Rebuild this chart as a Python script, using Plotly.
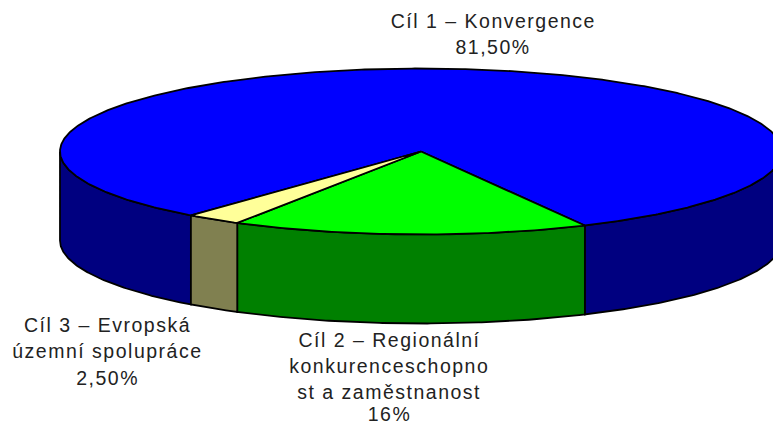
import numpy as np
import plotly.graph_objects as go

# Data
categories = ["Cíl 1 – Konvergence", "Cíl 2 – Regionální konkurenceschopnost a zaměstnanost", "Cíl 3 – Evropská územní spolupráce"]
values = [81.5, 16.0, 2.5]
top_colors = ["#0000FF", "#00FF00", "#FFFF99"]
side_colors = ["#000080", "#008000", "#808050"]
label_lines = [
    ["Cíl 1 – Konvergence", "81,50%"],
    ["Cíl 2 – Regionální", "konkurenceschopno", "st a zaměstnanost", "16%"],
    ["Cíl 3 – Evropská", "územní spolupráce", "2,50%"],
]
label_x = [493, 389.5, 107.7]
label_y = [[21, 47], [340, 366, 392, 413.5], [325, 351, 378]]

# Pie geometry on a pixel-sized axis
CX, CY, RX, RY, DEPTH = 421, 151.5, 361, 83, 89
ROTATION = 219.6  # clockwise angle from 12 o'clock where the first slice begins
LINE = dict(color="#000000", width=1.8)


def rim(a0, a1, drop=0.0):
    n = max(int(abs(a1 - a0)) * 2, 2)
    t = np.radians(np.linspace(a0, a1, n))
    return CX + RX * np.sin(t), CY - RY * np.cos(t) + drop


fig = go.Figure()
edges = ROTATION + np.concatenate([[0], np.cumsum(values)]) * 3.6

# walls: only the part of the rim facing the viewer (90..270 degrees, plus wrap)
for i in range(len(values)):
    for shift in (0, -360):
        a0 = max(edges[i] + shift, 90)
        a1 = min(edges[i + 1] + shift, 270)
        if a1 <= a0:
            continue
        x0, y0 = rim(a0, a1)
        x1, y1 = rim(a1, a0, DEPTH)
        fig.add_trace(go.Scatter(
            x=np.r_[x0, x1, x0[:1]], y=np.r_[y0, y1, y0[:1]], mode="lines",
            fill="toself", fillcolor=side_colors[i], line=LINE, hoverinfo="skip"))

# top faces
for i in range(len(values)):
    x0, y0 = rim(edges[i], edges[i + 1])
    fig.add_trace(go.Scatter(
        x=np.r_[CX, x0, CX], y=np.r_[CY, y0, CY], mode="lines",
        fill="toself", fillcolor=top_colors[i], line=LINE,
        name=categories[i], hoverinfo="name"))

for lines, x, ys in zip(label_lines, label_x, label_y):
    for text, y in zip(lines, ys):
        fig.add_annotation(x=x, y=y, text=text, showarrow=False, xanchor="center", yanchor="middle",
                           font=dict(family="Liberation Sans", size=19.5, color="#222222"))

fig.update_layout(
    width=773, height=426, margin=dict(l=0, r=0, t=0, b=0),
    paper_bgcolor="white", plot_bgcolor="white", showlegend=False,
    xaxis=dict(range=[0, 773], visible=False, fixedrange=True),
    yaxis=dict(range=[426, 0], visible=False, fixedrange=True),
)
fig.write_html("out.html", config={"displayModeBar": False},
               post_script="document.body.style.margin='0';"
                           "document.querySelectorAll('.annotation-text').forEach(function(t){t.style.letterSpacing='1.5px';});")
